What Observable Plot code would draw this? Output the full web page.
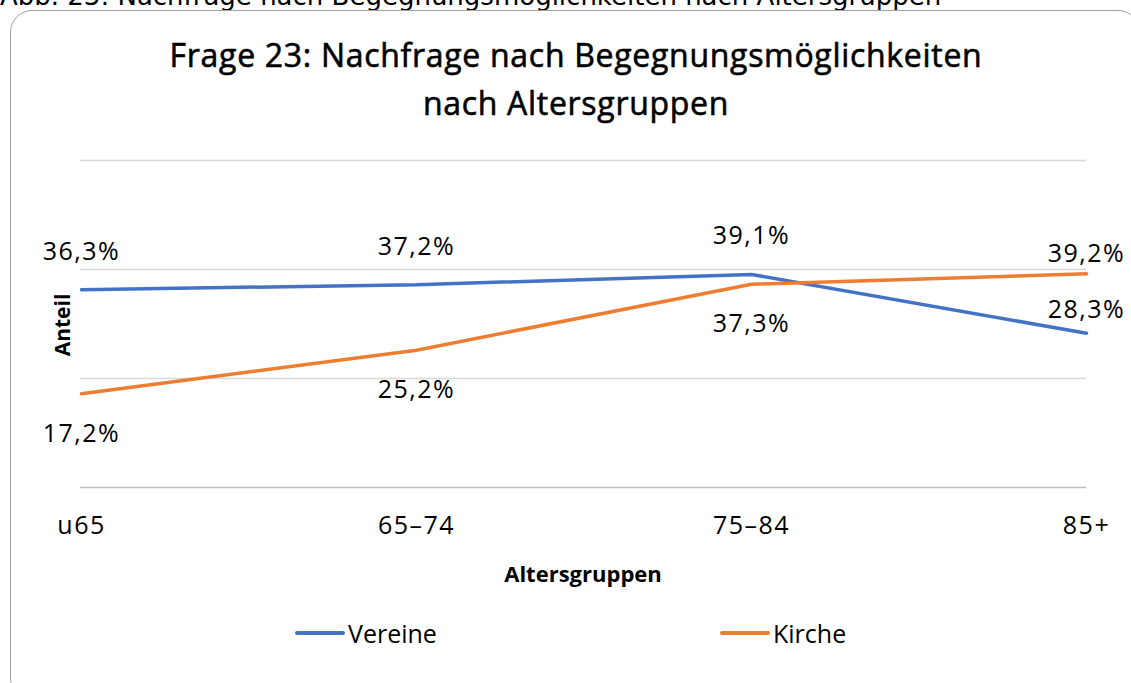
<!DOCTYPE html>
<html>
<head>
<meta charset="utf-8">
<script src="https://cdn.jsdelivr.net/npm/d3@7"></script>
<script src="https://cdn.jsdelivr.net/npm/@observablehq/plot@0.6"></script>
<style>
  html, body { margin: 0; padding: 0; background: #fff; }
  #wrap { position: relative; width: 1131px; height: 683px; overflow: hidden; background: #fff; font-family: "Open Sans", sans-serif; color: #000; }
  .abs { position: absolute; white-space: nowrap; }
</style>
</head>
<body>
<div id="wrap">
  <div id="chart" class="abs" style="left:0;top:0;"></div>
  <div class="abs" style="left:0;top:-17px;font-family:'DejaVu Sans';font-size:26px;line-height:26px;">Abb. 23: Nachfrage nach Begegnungsmöglichkeiten nach Altersgruppen</div>
  <div class="abs" style="left:10px;top:10px;width:1130px;height:690px;border:1.5px solid #a0a0a0;border-radius:22px;box-sizing:border-box;"></div>
  <div id="title" class="abs" style="left:0;width:1152px;top:31px;text-align:center;font-size:32px;font-weight:400;-webkit-text-stroke:0.6px #000;letter-spacing:0.7px;line-height:48px;"></div>
  <div id="ylabel" class="abs" style="left:62px;top:325px;transform:translate(-50%,-50%) rotate(-90deg);font-weight:bold;font-size:21px;"></div>
  <div id="xlabel" class="abs" style="left:583px;top:573px;transform:translate(-50%,-50%);font-weight:bold;font-size:22px;"></div>
  <div id="legend" class="abs" style="left:0;top:0;"></div>
</div>
<script>
// ---- data ----
const groups = ["u65", "65–74", "75–84", "85+"];
const vereine = [36.3, 37.2, 39.1, 28.3];
const kirche = [17.2, 25.2, 37.3, 39.2];
const seriesNames = ["Vereine", "Kirche"];
const seriesColors = ["#4472C4", "#ED7D31"];
const yGridTicks = [20, 40, 60];
const titleLines = ["Frage 23: Nachfrage nach Begegnungsmöglichkeiten", "nach Altersgruppen"];
const xTitle = "Altersgruppen";
const yTitle = "Anteil";

// ---- table ----
const rows = [];
groups.forEach((g, i) => {
  rows.push({group: g, series: seriesNames[0], value: vereine[i], i});
  rows.push({group: g, series: seriesNames[1], value: kirche[i], i});
});
const fmt = v => v.toFixed(1).replace(".", ",") + "%";
const last = groups.length - 1;

const labelFont = {fontSize: 25, fill: "#000", text: d => fmt(d.value)};

const plot = Plot.plot({
  width: 1131,
  height: 683,
  marginTop: 160,
  marginBottom: 196,
  marginLeft: 80,
  marginRight: 45,
  style: {background: "transparent", fontFamily: "'Open Sans', sans-serif", overflow: "visible", letterSpacing: "1.5px"},
  x: {type: "point", domain: groups, padding: 0},
  y: {domain: [0, 60], axis: null},
  color: {domain: seriesNames, range: seriesColors},
  marks: [
    Plot.gridY(yGridTicks, {stroke: "#d9d9d9", strokeOpacity: 1, strokeWidth: 1.5}),
    Plot.ruleY([0], {stroke: "#bfbfbf", strokeWidth: 1.5}),
    Plot.line(rows, {x: "group", y: "value", z: "series", stroke: "series", strokeWidth: 3.5, strokeLinejoin: "miter"}),
    Plot.text(rows.filter(d => d.series === seriesNames[0] && d.i !== last), {x: "group", y: "value", dy: -38, ...labelFont}),
    Plot.text(rows.filter(d => d.series === seriesNames[0] && d.i === last), {x: "group", y: "value", dy: -23, ...labelFont}),
    Plot.text(rows.filter(d => d.series === seriesNames[1] && d.i !== last), {x: "group", y: "value", dy: 40, ...labelFont}),
    Plot.text(rows.filter(d => d.series === seriesNames[1] && d.i === last), {x: "group", y: "value", dy: -20, ...labelFont}),
    Plot.axisX({tickSize: 0, tickPadding: 29, fontSize: 25, label: null, fill: "#000"})
  ]
});
document.getElementById("chart").appendChild(plot);

document.getElementById("title").innerHTML = titleLines.map(t => `<div>${t}</div>`).join("");
document.getElementById("xlabel").textContent = xTitle;
document.getElementById("ylabel").textContent = yTitle;

// legend
const legendPos = [295, 720];
const legend = document.getElementById("legend");
seriesNames.forEach((s, k) => {
  const item = document.createElement("div");
  item.className = "abs";
  item.style.cssText = `left:${legendPos[k]}px;top:619px;height:28px;display:flex;align-items:center;font-size:25px;`;
  item.innerHTML = `<span style="display:inline-block;width:50px;height:4px;border-radius:2px;background:${seriesColors[k]};margin-right:3px;"></span><span>${s}</span>`;
  legend.appendChild(item);
});
</script>
</body>
</html>
